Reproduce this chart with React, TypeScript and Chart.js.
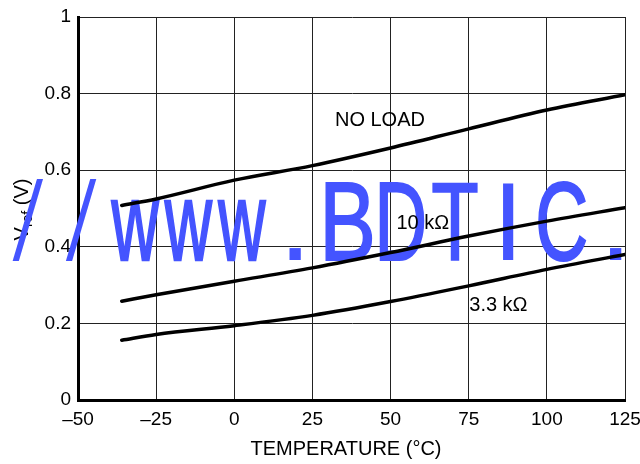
import React, { useEffect, useRef } from 'react';
import { Chart, registerables } from 'chart.js';

Chart.register(...registerables);

// ---- data ----
const temps = [-36, -25, 0, 25, 50, 75, 100, 125];
const noLoad = [0.508, 0.525, 0.574, 0.612, 0.658, 0.708, 0.757, 0.797];
const load10k = [0.258, 0.275, 0.31, 0.345, 0.385, 0.428, 0.467, 0.502];
const load3k3 = [0.156, 0.171, 0.194, 0.221, 0.257, 0.298, 0.341, 0.38];

const xMin = -50;
const xMax = 125;
const xStep = 25;
const yMin = 0;
const yMax = 1;
const yStep = 0.2;

const curveLabels = ['NO LOAD', '10 kΩ', '3.3 kΩ'];
const labelX = [46.6, 60.3, 84.5];
const labelY = [0.73, 0.461, 0.247];

const xTitle = 'TEMPERATURE (°C)';
const yTitleMain = 'V';
const yTitleSub = 'ref';
const yTitleTail = ' (V)';
const watermark = '//www.BDTIC.';

const FONT = "'Liberation Sans', Arial, Helvetica, sans-serif";

// watermark glyph ink widths and extra stroke (style only)
const wmWidth: Record<string, number> = { '/': 31, w: 48, '.': 13, B: 46, D: 44, T: 45, I: 11, C: 47 };
const wmStroke: Record<string, number> = { '/': 0, w: 1.4, '.': 0, B: 1.4, D: 1.4, T: 1.2, I: 0, C: 1.4 };
const slashThin = 0.72;

const overlayPlugin = {
  id: 'overlay',
  beforeDatasetsDraw(chart: any) {
    const ctx = chart.ctx as CanvasRenderingContext2D;
    // y axis title (with subscript)
    ctx.save();
    ctx.fillStyle = '#000';
    ctx.textBaseline = 'alphabetic';
    ctx.textAlign = 'left';
    ctx.font = `20px ${FONT}`;
    const w1 = ctx.measureText(yTitleMain).width;
    const w3 = ctx.measureText(yTitleTail).width;
    ctx.font = `14px ${FONT}`;
    const w2 = ctx.measureText(yTitleSub).width;
    const total = w1 + w2 + w3;
    ctx.translate(28, 209.5 + total / 2);
    ctx.rotate(-Math.PI / 2);
    ctx.font = `20px ${FONT}`;
    ctx.fillText(yTitleMain, 0, 0);
    ctx.font = `14px ${FONT}`;
    ctx.fillText(yTitleSub, w1, 4);
    ctx.font = `20px ${FONT}`;
    ctx.fillText(yTitleTail, w1 + w2, 0);
    ctx.restore();

    // x axis title
    ctx.save();
    ctx.fillStyle = '#000';
    ctx.font = `20px ${FONT}`;
    ctx.textAlign = 'center';
    ctx.textBaseline = 'middle';
    ctx.fillText(xTitle, 346, 449);
    ctx.restore();

    // watermark
    ctx.save();
    ctx.font = `109px ${FONT}`;
    const capM = ctx.measureText('B');
    const capH = capM.actualBoundingBoxAscent || 78;
    const sy = 78 / capH;
    ctx.fillStyle = '#4454ff';
    ctx.strokeStyle = '#4454ff';
    ctx.textBaseline = 'alphabetic';
    ctx.textAlign = 'left';
    Array.from(watermark).forEach((ch, i) => {
      const m = ctx.measureText(ch);
      const l = m.actualBoundingBoxLeft;
      const r = m.actualBoundingBoxRight;
      const ink = l + r || 40;
      const cx = 28 + i * 53.4;
      ctx.save();
      ctx.translate(cx, 259.5);
      if (ch === '/') {
        const asc = m.actualBoundingBoxAscent * sy;
        const desc = m.actualBoundingBoxDescent * sy;
        const h = asc + desc || 80;
        const k = Math.max(0, (wmWidth[ch] - ink * slashThin) / h);
        // thinner stroke, leaned further so the overall width stays
        ctx.translate(-(k * (asc - desc)) / 2, 0);
        ctx.transform(1, 0, -k, 1, 0, 0);
        ctx.scale(slashThin, sy);
        ctx.fillText(ch, -((r - l) / 2), 0);
      } else {
        const sx = (wmWidth[ch] || ink) / ink;
        ctx.scale(sx, sy);
        const x0 = -((r - l) / 2);
        ctx.fillText(ch, x0, 0);
        const sw = wmStroke[ch] || 0;
        if (sw > 0) {
          ctx.lineWidth = sw / sx;
          ctx.strokeText(ch, x0, 0);
        }
      }
      ctx.restore();
    });
    ctx.restore();
  },
  afterDatasetsDraw(chart: any) {
    const ctx = chart.ctx as CanvasRenderingContext2D;
    const xs = chart.scales.x;
    const ys = chart.scales.y;
    ctx.save();
    ctx.fillStyle = '#000';
    ctx.font = `20px ${FONT}`;
    ctx.textAlign = 'center';
    ctx.textBaseline = 'middle';
    curveLabels.forEach((t, i) => {
      ctx.fillText(t, xs.getPixelForValue(labelX[i]), ys.getPixelForValue(labelY[i]));
    });
    ctx.restore();
  },
};

export default function App() {
  const ref = useRef<HTMLCanvasElement | null>(null);

  useEffect(() => {
    document.body.style.margin = '0';
    const canvas = ref.current;
    if (!canvas) return;
    const mk = (vals: number[]) => temps.map((t, i) => ({ x: t, y: vals[i] }));
    const lineStyle = {
      borderColor: '#000',
      borderWidth: 3.5,
      pointRadius: 0,
      fill: false,
      cubicInterpolationMode: 'monotone' as const,
      borderCapStyle: 'round' as const,
      borderJoinStyle: 'round' as const,
    };
    const chart = new Chart(canvas, {
      type: 'line',
      data: {
        datasets: [
          { label: curveLabels[0], data: mk(noLoad), ...lineStyle },
          { label: curveLabels[1], data: mk(load10k), ...lineStyle },
          { label: curveLabels[2], data: mk(load3k3), ...lineStyle },
        ],
      },
      options: {
        animation: false,
        responsive: false,
        layout: { padding: { top: 17, right: 15, left: 0, bottom: 0 } },
        plugins: {
          legend: { display: false },
          tooltip: { enabled: false },
        },
        scales: {
          x: {
            type: 'linear',
            min: xMin,
            max: xMax,
            afterFit: (s: any) => {
              s.height = 64;
              s.paddingLeft = 0;
              s.paddingRight = 0;
            },
            ticks: {
              stepSize: xStep,
              color: '#000',
              padding: 8,
              maxRotation: 0,
              font: { family: FONT, size: 19 },
              callback: (v: any) => (v < 0 ? '–' + Math.abs(v) : String(v)),
            },
            grid: { color: '#222', lineWidth: 1, drawTicks: false },
            border: { display: true, color: '#000', width: 3 },
          },
          y: {
            type: 'linear',
            min: yMin,
            max: yMax,
            afterFit: (s: any) => {
              s.width = 78;
              s.paddingTop = 0;
              s.paddingBottom = 0;
            },
            ticks: {
              stepSize: yStep,
              color: '#000',
              padding: 7,
              font: { family: FONT, size: 19 },
              callback: (v: any) => String(Math.round(v * 10) / 10),
            },
            grid: { color: '#222', lineWidth: 1, drawTicks: false },
            border: { display: true, color: '#000', width: 3 },
          },
        },
      },
      plugins: [overlayPlugin],
    });
    return () => chart.destroy();
  }, []);

  return (
    <div style={{ width: 640, height: 464 }}>
      <canvas ref={ref} width={640} height={464} />
    </div>
  );
}
